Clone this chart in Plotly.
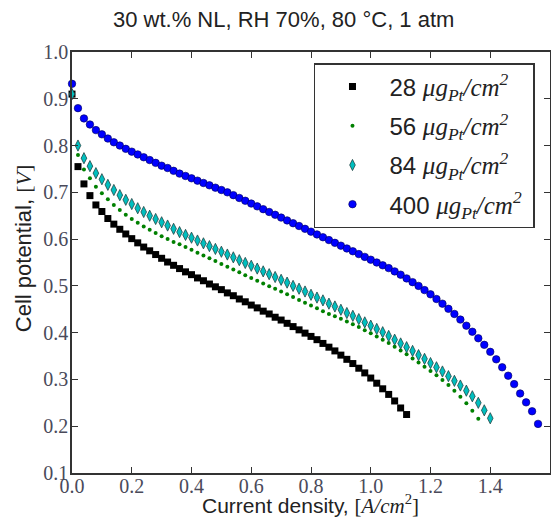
import plotly.graph_objects as go

# Current density axis samples [A/cm^2]
current = [0.00, 0.02, 0.04, 0.06, 0.08, 0.10, 0.12, 0.14, 0.16, 0.18,
           0.20, 0.22, 0.24, 0.26, 0.28, 0.30, 0.32, 0.34, 0.36, 0.38,
           0.40, 0.42, 0.44, 0.46, 0.48, 0.50, 0.52, 0.54, 0.56, 0.58,
           0.60, 0.62, 0.64, 0.66, 0.68, 0.70, 0.72, 0.74, 0.76, 0.78,
           0.80, 0.82, 0.84, 0.86, 0.88, 0.90, 0.92, 0.94, 0.96, 0.98,
           1.00, 1.02, 1.04, 1.06, 1.08, 1.10, 1.12, 1.14, 1.16, 1.18,
           1.20, 1.22, 1.24, 1.26, 1.28, 1.30, 1.32, 1.34, 1.36, 1.38,
           1.40, 1.42, 1.44, 1.46, 1.48, 1.50, 1.52, 1.54, 1.56]

v28 = [0.910, 0.755, 0.718, 0.693, 0.673, 0.659, 0.644, 0.632, 0.621, 0.611,
       0.601, 0.592, 0.583, 0.575, 0.567, 0.559, 0.551, 0.544, 0.537, 0.530,
       0.524, 0.517, 0.511, 0.504, 0.498, 0.492, 0.485, 0.479, 0.472, 0.466,
       0.459, 0.453, 0.446, 0.440, 0.433, 0.427, 0.420, 0.413, 0.406, 0.399,
       0.392, 0.385, 0.377, 0.369, 0.361, 0.352, 0.343, 0.334, 0.324, 0.314,
       0.303, 0.292, 0.280, 0.268, 0.254, 0.239, 0.225]

v56 = [0.910, 0.780, 0.749, 0.730, 0.712, 0.698, 0.685, 0.673, 0.662, 0.652,
       0.643, 0.635, 0.627, 0.620, 0.613, 0.606, 0.600, 0.594, 0.589, 0.583,
       0.577, 0.571, 0.565, 0.559, 0.553, 0.547, 0.541, 0.535, 0.529, 0.523,
       0.517, 0.511, 0.505, 0.499, 0.494, 0.488, 0.482, 0.476, 0.470, 0.464,
       0.458, 0.452, 0.446, 0.440, 0.435, 0.430, 0.424, 0.418, 0.412, 0.405,
       0.399, 0.392, 0.385, 0.378, 0.370, 0.362, 0.354, 0.345, 0.336, 0.327,
       0.318, 0.309, 0.299, 0.288, 0.276, 0.263, 0.249, 0.233, 0.216]

v84 = [0.910, 0.800, 0.773, 0.756, 0.741, 0.728, 0.716, 0.705, 0.694, 0.684,
       0.675, 0.666, 0.658, 0.650, 0.643, 0.636, 0.629, 0.622, 0.615, 0.609,
       0.603, 0.597, 0.591, 0.585, 0.579, 0.573, 0.567, 0.561, 0.555, 0.549,
       0.543, 0.537, 0.531, 0.525, 0.519, 0.513, 0.507, 0.500, 0.494, 0.488,
       0.481, 0.475, 0.469, 0.462, 0.456, 0.449, 0.442, 0.436, 0.429, 0.422,
       0.415, 0.408, 0.401, 0.393, 0.385, 0.377, 0.369, 0.361, 0.352, 0.344,
       0.335, 0.326, 0.317, 0.307, 0.297, 0.287, 0.276, 0.264, 0.250, 0.234,
       0.217]

v400 = [0.932, 0.880, 0.858, 0.845, 0.833, 0.824, 0.815, 0.807, 0.800, 0.793,
        0.787, 0.781, 0.775, 0.769, 0.763, 0.757, 0.752, 0.746, 0.740, 0.735,
        0.730, 0.725, 0.720, 0.715, 0.710, 0.705, 0.700, 0.694, 0.688, 0.682,
        0.676, 0.670, 0.664, 0.658, 0.652, 0.646, 0.640, 0.634, 0.628, 0.622,
        0.616, 0.610, 0.604, 0.598, 0.592, 0.586, 0.580, 0.574, 0.568, 0.562,
        0.556, 0.550, 0.544, 0.538, 0.531, 0.524, 0.516, 0.508, 0.500, 0.491,
        0.482, 0.472, 0.462, 0.451, 0.440, 0.428, 0.415, 0.402, 0.388, 0.374,
        0.359, 0.343, 0.326, 0.308, 0.290, 0.270, 0.251, 0.232, 0.205]

x_ticks = [0.0, 0.2, 0.4, 0.6, 0.8, 1.0, 1.2, 1.4, 1.6]
y_ticks = [0.1, 0.2, 0.3, 0.4, 0.5, 0.6, 0.7, 0.8, 0.9, 1.0]

SERIF = "Liberation Serif"
SANS = "Liberation Sans"
TXT = "#222222"


def math_label(num):
    return (f"{num} <span style='font-family:{SERIF};font-size:25px'>"
            f"<i>μg<sub>Pt</sub>/cm<sup>2</sup></i></span>\u00a0")


series = [
    (v28, "28", dict(symbol="square", size=7, color="#000000", line=dict(width=0))),
    (v56, "56", dict(symbol="circle", size=4, color="#008000", line=dict(width=0))),
    (v84, "84", dict(symbol="diamond-tall", size=8, color="#00BFBF", line=dict(width=0.8, color="#224444"))),
    (v400, "400", dict(symbol="circle", size=7.5, color="#0000FF", line=dict(width=0.6, color="#000055"))),
]

fig = go.Figure()
for i, (vals, num, mk) in enumerate(series):
    fig.add_trace(go.Scatter(
        x=current[:len(vals)], y=vals, mode="markers", name=math_label(num),
        marker=mk, cliponaxis=False, legendgroup=f"g{i}",
    ))

axis_common = dict(
    showline=True, linecolor="#333333", linewidth=1.5, mirror="ticks",
    ticks="inside", ticklen=6, tickwidth=1.2, tickcolor="#333333",
    showgrid=False, zeroline=False,
    tickfont=dict(family=SERIF, size=20, color="#4a4a5a"),
)

# page body has an 8px offset; size the figure so the plot lands where the reference has it
fig.update_layout(
    width=551, height=511,
    margin=dict(l=64, r=7, t=44, b=46),
    paper_bgcolor="white", plot_bgcolor="white",
    showlegend=True,
    legend=dict(
        x=(315 - 72) / 480, y=1 - (63 - 52) / 421, xanchor="left", yanchor="top",
        bordercolor="#333333", borderwidth=1.5, bgcolor="white",
        font=dict(family=SANS, size=24, color=TXT),
        tracegroupgap=5, itemwidth=64,
    ),
    annotations=[
        dict(text="30 wt.% NL, RH 70%, 80 °C, 1 atm", xref="paper", yref="paper",
             x=(284 - 72) / 480, y=1 + (52 - 20) / 421, xanchor="center", yanchor="middle",
             showarrow=False, font=dict(family=SANS, size=22, color=TXT)),
        dict(text=f"Current density, <span style='font-family:{SERIF}'>[<i>A/cm</i><sup>2</sup>]</span>",
             xref="paper", yref="paper", x=(311 - 72) / 480, y=-(504 - 473) / 421,
             xanchor="center", yanchor="middle", showarrow=False,
             font=dict(family=SANS, size=21, color=TXT)),
        dict(text=f"Cell potential, <span style='font-family:{SERIF}'>[<i>V</i>]</span>",
             xref="paper", yref="paper", x=-(72 - 23) / 480, y=(473 - 248) / 421,
             xanchor="center", yanchor="middle", textangle=-90, showarrow=False,
             font=dict(family=SANS, size=22, color=TXT)),
    ],
)
fig.update_xaxes(range=[0, 1.6], tickvals=x_ticks, tickformat=".1f",
                 ticklabelstandoff=-6, **axis_common)
fig.update_yaxes(range=[0.1, 1.0], tickvals=y_ticks, tickformat=".1f",
                 ticklabelstandoff=-2, **axis_common)

fig.write_html("out.html")
